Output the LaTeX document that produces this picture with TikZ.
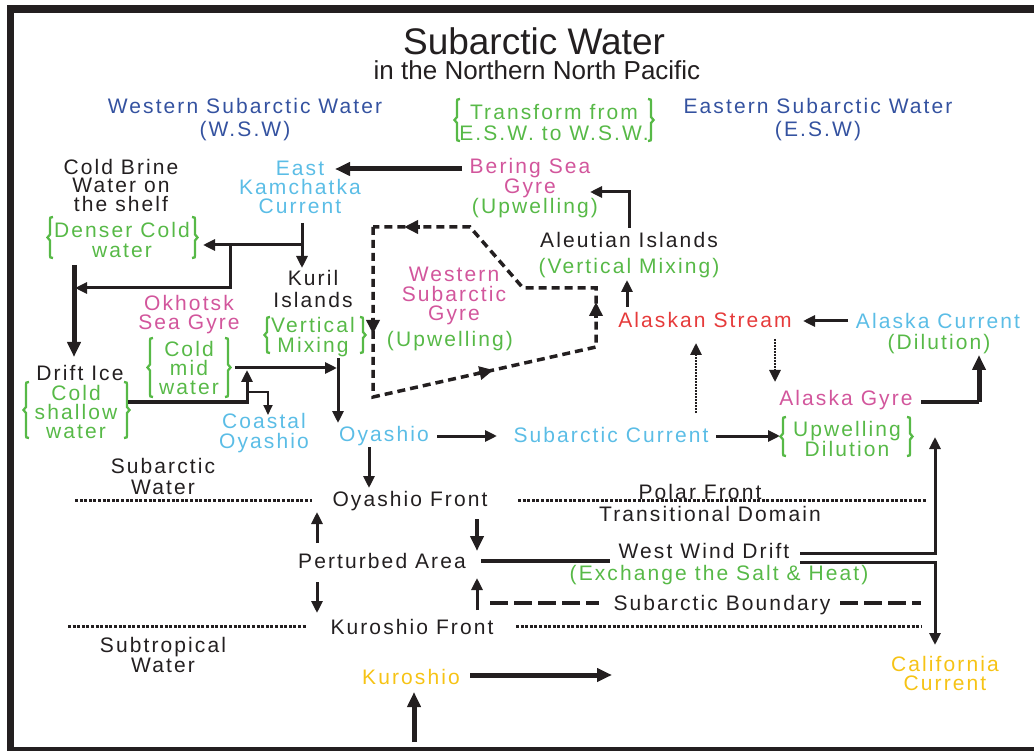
\documentclass[tikz,border=0pt]{standalone}
\usepackage{fontspec}
\setmainfont{Liberation Sans}[LetterSpace=10]
\newfontfamily\tfont{Liberation Sans}
\usetikzlibrary{arrows.meta,calc}
\definecolor{ink}{HTML}{231F20}
\definecolor{dblue}{HTML}{3452A0}
\definecolor{grn}{HTML}{57B947}
\definecolor{lblue}{HTML}{5BBDE6}
\definecolor{pink}{HTML}{D2569C}
\definecolor{redc}{HTML}{E63B3B}
\definecolor{yel}{HTML}{F6C315}
\tikzset{
 lbl/.style={font=\fontsize{21}{19}\selectfont, align=center, inner sep=0pt, text=ink},
 sk/.style={font=\fontsize{21}{#1}\selectfont},
 wb/.style={lbl,text=dblue}, gr/.style={lbl,text=grn}, lb/.style={lbl,text=lblue},
 pk/.style={lbl,text=pink}, rd/.style={lbl,text=redc}, yl/.style={lbl,text=yel},
 conn/.style={draw=ink, line width=3pt, -{Triangle[length=12pt,width=11pt]}},
 connk/.style={draw=ink, line width=5pt, -{Triangle[length=15pt,width=13pt]}},
 connt/.style={draw=ink, line width=2pt, -{Triangle[length=10pt,width=9pt]}},
 plainln/.style={draw=ink, line width=3pt},
 dotarr/.style={draw=ink, line width=2.8pt, dash pattern=on 1.6pt off 1.4pt, -{Triangle[length=12pt,width=11pt]}},
 front/.style={draw=ink, line width=3pt, dash pattern=on 3pt off 1.6pt},
 bnd/.style={draw=ink, line width=4pt, dash pattern=on 18pt off 6pt},
 gyre/.style={draw=ink, line width=3.5pt, dash pattern=on 8pt off 5pt},
 gtip/.style={draw=ink, line width=3.5pt, -{Triangle[length=14pt,width=13pt]}},
 brk/.style={draw=grn, line width=2.3pt},
}
\newcommand\gbl[3]{\draw[brk] ({#1+3},#2) .. controls (#1,#2) .. (#1,{#2+5}) -- (#1,{(#2+#3)/2-3}) -- ({#1-2.5},{(#2+#3)/2}) -- (#1,{(#2+#3)/2+3}) -- (#1,{#3-5}) .. controls (#1,#3) .. ({#1+3},#3);}
\newcommand\gbr[3]{\draw[brk] ({#1-3},#2) .. controls (#1,#2) .. (#1,{#2+5}) -- (#1,{(#2+#3)/2-3}) -- ({#1+2.5},{(#2+#3)/2}) -- (#1,{(#2+#3)/2+3}) -- (#1,{#3-5}) .. controls (#1,#3) .. ({#1-3},#3);}
\begin{document}
\begin{tikzpicture}[x=1pt,y=-1pt]
\useasboundingbox (0,0) rectangle (1034,751);
% frame
\fill[ink] (6.5,5) rectangle (1034,13.3);
\fill[ink] (6.5,5) rectangle (14,751);
\fill[ink] (6.5,746.5) rectangle (1034,751);

% titles
\node[lbl, font=\tfont\fontsize{37}{40}\selectfont] (title) at (534,41) {Subarctic Water};
\node[lbl, font=\tfont\fontsize{26}{28}\selectfont] (subtitle) at (537,70) {in the Northern North Pacific};
\node[wb, sk=23] (wsw) at (245,120) {Western Subarctic Water\\(W.S.W)};
\node[gr, sk=21] (transform) at (554,123) {Transform from\\E.S.W. to W.S.W.};
\node[wb, sk=23] (esw) at (818,120) {Eastern Subarctic Water\\(E.S.W)};
\gbl{457}{99}{141} \gbr{651}{99}{141}

% west side
\node[lbl, sk=18.5] (brine) at (121,185) {Cold Brine\\Water on\\the shelf};
\node[gr, sk=20] (denser) at (122,240) {Denser Cold\\water};
\gbl{50}{217}{258} \gbr{195}{217}{258}
\node[lb, sk=19] (eastk) at (300,187) {East\\Kamchatka\\Current};
\node[pk, sk=19] (bering) at (530,178.5) {Bering Sea\\Gyre};
\node[gr] (beringup) at (535,208.5) {(Upwelling)};
\node[lbl] (aleut) at (629,240) {Aleutian Islands};
\node[gr] (aleutmix) at (629,268) {(Vertical Mixing)};
\node[pk, sk=19.5] (wsg) at (454,296) {Western\\Subarctic\\Gyre};
\node[gr] (wsgup) at (450,341.5) {(Upwelling)};
\node[lbl, sk=22] (kuril) at (313,289) {Kuril\\Islands};
\node[gr, sk=20] (kurilmix) at (313,337.5) {Vertical\\Mixing};
\gbl{267}{317}{353} \gbr{363}{317}{353}
\node[pk, sk=19] (okhotsk) at (189,314.5) {Okhotsk\\Sea Gyre};
\node[gr, sk=19] (coldmid) at (189,368) {Cold\\mid\\water};
\gbl{150}{338}{397} \gbr{228}{338}{397}
\node[lbl] (drift) at (80,373) {Drift Ice};
\node[gr, sk=19] (shallow) at (76,412) {Cold\\shallow\\water};
\gbl{26}{382}{438} \gbr{127}{382}{438}
\node[lb, sk=20] (coastal) at (264,433) {Coastal\\Oyashio};
\node[lb] (oyashio) at (384,436) {Oyashio};
\node[lb] (subcur) at (611,435) {Subarctic Current};

% east side
\node[rd] (alstream) at (705,320) {Alaskan Stream};
\node[lb] (alcur) at (938,321) {Alaska Current};
\node[gr] (aldil) at (939,344) {(Dilution)};
\node[pk] (algyre) at (846,400) {Alaska Gyre};
\node[gr, sk=20] (updil) at (847,438.5) {Upwelling\\Dilution};
\gbl{783}{417}{456} \gbr{910}{417}{456}

% fronts and lower part
\node[lbl, sk=21] (subw) at (163,476) {Subarctic\\Water};
\node[lbl] (oyfront) at (410,501) {Oyashio Front};
\node[lbl] (polar) at (700,492) {Polar Front};
\node[lbl] (trans) at (710,514) {Transitional Domain};
\node[lbl] (perturbed) at (382,561) {Perturbed Area};
\node[lbl] (wwd) at (704,551) {West Wind Drift};
\node[gr] (exch) at (719,575) {(Exchange the Salt \& Heat)};
\node[lbl] (subbound) at (722,605) {Subarctic Boundary};
\node[lbl] (kfront) at (412,627) {Kuroshio Front};
\node[lbl, sk=20] (subtrop) at (163,655) {Subtropical\\Water};
\node[yl] (kuroshio) at (411,677) {Kuroshio};
\node[yl, sk=19] (calif) at (945,673) {California\\Current};

% front lines
\draw[front] (75,500) -- (312,500);
\draw[front] (518,500) -- (927,500);
\draw[front] (68,626) -- (307,626);
\draw[front] (516,626) -- (921,626);
\draw[bnd] (490,603) -- (599,603);
\draw[bnd] (840,603) -- (921,603);

% connector end points
\coordinate (bering-w) at (462,169);
\coordinate (eastk-e) at (335,169);
\coordinate (eastk-s) at (302,223);
\coordinate (kuril-n) at (302,268);
\coordinate (ek-split) at (302,245);
\coordinate (denser-e) at (203,245);
\coordinate (ek-knee) at (230,245);
\coordinate (drift-line) at (75,288);
\coordinate (denser-s) at (74,265);
\coordinate (drift-n) at (74,357);
\coordinate (shallow-e) at (128,402);
\coordinate (coldmid-s) at (247,370);
\coordinate (coastal-split) at (247,392);
\coordinate (coastal-n) at (268,415);
\coordinate (coldmid-e) at (235,368);
\coordinate (kuril-line) at (337,368);
\coordinate (kurilmix-s) at (338,358);
\coordinate (oyashio-n) at (338,423);
\coordinate (oyashio-e) at (437,436);
\coordinate (subcur-w) at (497,436);
\coordinate (oyashio-s) at (369,447);
\coordinate (oyfront-n) at (369,488);
\coordinate (aleut-n) at (629,228);
\coordinate (bering-e) at (590,192);
\coordinate (alstream-n) at (627,307);
\coordinate (aleutmix-s) at (627,280);
\coordinate (alcur-w) at (848,321);
\coordinate (alstream-e) at (803,321);
\coordinate (subcur-n) at (696,413);
\coordinate (alstream-s1) at (696,343);
\coordinate (alstream-s2) at (775,339);
\coordinate (algyre-n) at (775,382);
\coordinate (algyre-e) at (921,402);
\coordinate (alcur-s) at (979,355);
\coordinate (subcur-e) at (716,436);
\coordinate (updil-w) at (780,436);
\coordinate (wwd-e1) at (800,553);
\coordinate (updil-s) at (935,437);
\coordinate (wwd-e2) at (800,562);
\coordinate (calif-n) at (935,645);
\coordinate (perturbed-e) at (481,561);
\coordinate (wwd-w) at (610,561);
\coordinate (oyfront-s) at (477,519);
\coordinate (perturbed-ne) at (477,551);
\coordinate (kfront-n) at (477,610);
\coordinate (perturbed-se) at (477,578);
\coordinate (perturbed-nw) at (317,543);
\coordinate (oyfront-sw) at (317,512);
\coordinate (perturbed-sw) at (317,582);
\coordinate (kfront-nw) at (317,613);
\coordinate (kuroshio-e) at (470,675);
\coordinate (kuroshio-out) at (612,675);
\coordinate (kuroshio-in) at (414,742);
\coordinate (kuroshio-s) at (414,692);

% connectors
\draw[connk] (bering-w) -- (eastk-e);
\draw[conn] (eastk-s) -- (kuril-n);
\draw[conn] (ek-split) -- (denser-e);
\draw[conn] (ek-knee) |- (drift-line);
\draw[connk] (denser-s) -- (drift-n);
\draw[conn] (shallow-e) -| (coldmid-s);
\draw[connt] (coastal-split) -| (coastal-n);
\draw[conn] (coldmid-e) -- (kuril-line);
\draw[conn] (kurilmix-s) -- (oyashio-n);
\draw[conn] (oyashio-e) -- (subcur-w);
\draw[conn] (oyashio-s) -- (oyfront-n);
\draw[conn] (aleut-n) |- (bering-e);
\draw[conn] (alstream-n) -- (aleutmix-s);
\draw[conn] (alcur-w) -- (alstream-e);
\draw[dotarr] (subcur-n) -- (alstream-s1);
\draw[dotarr] (alstream-s2) -- (algyre-n);
\draw[plainln] (algyre-e) -- (alcur-s |- algyre-e);
\draw[connk] (alcur-s |- algyre-e) -- (alcur-s);
\draw[conn] (subcur-e) -- (updil-w);
\draw[conn] (wwd-e1) -| (updil-s);
\draw[conn] (wwd-e2) -| (calif-n);
\draw[draw=ink, line width=4pt] (perturbed-e) -- (wwd-w);
\draw[connk, line width=4pt] (oyfront-s) -- (perturbed-ne);
\draw[conn] (kfront-n) -- (perturbed-se);
\draw[conn] (perturbed-nw) -- (oyfront-sw);
\draw[conn] (perturbed-sw) -- (kfront-nw);
\draw[connk] (kuroshio-e) -- (kuroshio-out);
\draw[connk] (kuroshio-in) -- (kuroshio-s);

% western subarctic gyre loop
\coordinate (g1) at (373,227);
\coordinate (g2) at (373,397);
\coordinate (g3) at (596,347);
\coordinate (g4) at (596,288);
\coordinate (g5) at (523,288);
\coordinate (g6) at (470,227);
\draw[gyre] (g1) -- (g2) -- (g3) -- (g4) -- (g5) -- (g6) -- cycle;
\draw[gtip] (373,318) -- (373,334);
\draw[gtip] ($(g2)!0.47!(g3)$) -- ($(g2)!0.54!(g3)$);
\draw[gtip] (596,318) -- (596,302);
\draw[gtip] (420,227) -- (404,227);
\end{tikzpicture}
\end{document}
